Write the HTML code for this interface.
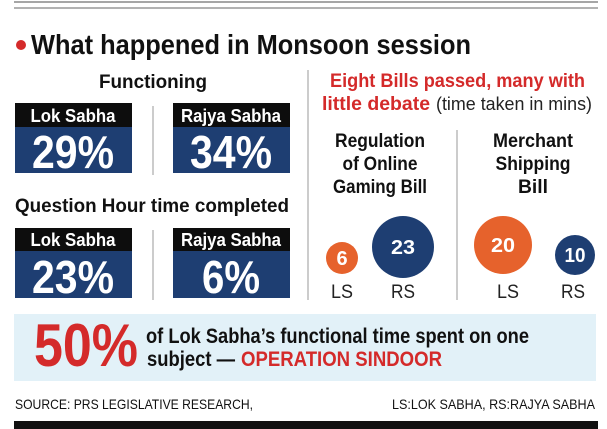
<!DOCTYPE html>
<html><head><meta charset="utf-8"><style>
html,body{margin:0;padding:0;background:#fff}
svg{display:block}
text{font-family:"Liberation Sans",sans-serif}
</style></head><body>
<svg width="607" height="429" viewBox="0 0 607 429" xmlns="http://www.w3.org/2000/svg">
<rect width="607" height="429" fill="#fff"/>
<line x1="14" y1="2" x2="598" y2="2" stroke="#888" stroke-width="1.5"/>
<line x1="14" y1="8" x2="598" y2="8" stroke="#999" stroke-width="1.5"/>
<circle cx="21" cy="45" r="5" fill="#d42a2a"/>
<text x="31" y="54" font-size="28" font-weight="bold" textLength="440" lengthAdjust="spacingAndGlyphs" fill="#111">What happened in Monsoon session</text>

<text x="153" y="88" font-size="19" font-weight="bold" text-anchor="middle" textLength="108" lengthAdjust="spacingAndGlyphs" fill="#111">Functioning</text>
<line x1="153" y1="106" x2="153" y2="175" stroke="#ccc" stroke-width="2"/>
<rect x="15" y="103" width="117" height="24" fill="#0d0d0d"/>
<rect x="15" y="127" width="117" height="46" fill="#1e3e72"/>
<text x="73" y="122" font-size="18" font-weight="bold" fill="#fff" text-anchor="middle" textLength="85" lengthAdjust="spacingAndGlyphs">Lok Sabha</text>
<text x="73" y="168" font-size="46" font-weight="bold" fill="#fff" text-anchor="middle" textLength="82" lengthAdjust="spacingAndGlyphs">29%</text>
<rect x="173" y="103" width="117" height="24" fill="#0d0d0d"/>
<rect x="173" y="127" width="117" height="46" fill="#1e3e72"/>
<text x="231" y="122" font-size="18" font-weight="bold" fill="#fff" text-anchor="middle" textLength="100" lengthAdjust="spacingAndGlyphs">Rajya Sabha</text>
<text x="231" y="168" font-size="46" font-weight="bold" fill="#fff" text-anchor="middle" textLength="82" lengthAdjust="spacingAndGlyphs">34%</text>

<text x="15" y="212" font-size="19" font-weight="bold" textLength="274" lengthAdjust="spacingAndGlyphs" fill="#111">Question Hour time completed</text>
<line x1="153" y1="230" x2="153" y2="300" stroke="#ccc" stroke-width="2"/>
<rect x="15" y="228" width="117" height="23" fill="#0d0d0d"/>
<rect x="15" y="251" width="117" height="47" fill="#1e3e72"/>
<text x="73" y="246" font-size="18" font-weight="bold" fill="#fff" text-anchor="middle" textLength="85" lengthAdjust="spacingAndGlyphs">Lok Sabha</text>
<text x="73" y="293" font-size="46" font-weight="bold" fill="#fff" text-anchor="middle" textLength="82" lengthAdjust="spacingAndGlyphs">23%</text>
<rect x="173" y="228" width="117" height="23" fill="#0d0d0d"/>
<rect x="173" y="251" width="117" height="47" fill="#1e3e72"/>
<text x="231" y="246" font-size="18" font-weight="bold" fill="#fff" text-anchor="middle" textLength="100" lengthAdjust="spacingAndGlyphs">Rajya Sabha</text>
<text x="231" y="293" font-size="46" font-weight="bold" fill="#fff" text-anchor="middle" textLength="58" lengthAdjust="spacingAndGlyphs">6%</text>

<line x1="308" y1="70" x2="308" y2="300" stroke="#bbb" stroke-width="1.5"/>
<text x="330" y="87" font-size="19" font-weight="bold" fill="#d42a2a" textLength="255" lengthAdjust="spacingAndGlyphs">Eight Bills passed, many with</text>
<text x="322" y="110" font-size="19" font-weight="bold" fill="#d42a2a" textLength="108" lengthAdjust="spacingAndGlyphs">little debate</text>
<text x="436" y="110" font-size="18" fill="#222" textLength="156" lengthAdjust="spacingAndGlyphs">(time taken in mins)</text>

<line x1="457" y1="130" x2="457" y2="300" stroke="#bbb" stroke-width="1.5"/>
<g font-size="19" font-weight="bold" fill="#111" text-anchor="middle">
<text x="380" y="147" textLength="90" lengthAdjust="spacingAndGlyphs">Regulation</text>
<text x="380" y="170" textLength="75" lengthAdjust="spacingAndGlyphs">of Online</text>
<text x="380" y="193" textLength="94" lengthAdjust="spacingAndGlyphs">Gaming Bill</text>
<text x="533" y="147" textLength="80" lengthAdjust="spacingAndGlyphs">Merchant</text>
<text x="533" y="170" textLength="75" lengthAdjust="spacingAndGlyphs">Shipping</text>
<text x="533" y="193" textLength="30" lengthAdjust="spacingAndGlyphs">Bill</text>
</g>
<circle cx="342" cy="258" r="16" fill="#e6622c"/>
<circle cx="403" cy="247" r="31" fill="#1e3e72"/>
<circle cx="503" cy="245" r="29" fill="#e6622c"/>
<circle cx="575" cy="255" r="20" fill="#1e3e72"/>
<g font-size="20" font-weight="bold" fill="#fff" text-anchor="middle">
<text x="342" y="265">6</text>
<text x="403" y="254" textLength="24" lengthAdjust="spacingAndGlyphs">23</text>
<text x="503" y="252" textLength="24" lengthAdjust="spacingAndGlyphs">20</text>
<text x="575" y="262" textLength="21" lengthAdjust="spacingAndGlyphs">10</text>
</g>
<g font-size="19" fill="#222" text-anchor="middle">
<text x="342" y="298" textLength="22" lengthAdjust="spacingAndGlyphs">LS</text>
<text x="403" y="298" textLength="24" lengthAdjust="spacingAndGlyphs">RS</text>
<text x="508" y="298" textLength="22" lengthAdjust="spacingAndGlyphs">LS</text>
<text x="573" y="298" textLength="24" lengthAdjust="spacingAndGlyphs">RS</text>
</g>

<rect x="14" y="314" width="582" height="67" fill="#e2f1f8"/>
<text x="34" y="366" font-size="60" font-weight="bold" fill="#d42a2a" textLength="104" lengthAdjust="spacingAndGlyphs">50%</text>
<text x="146" y="343" font-size="21" font-weight="bold" fill="#111" textLength="383" lengthAdjust="spacingAndGlyphs">of Lok Sabha’s functional time spent on one</text>
<text x="147" y="366" font-size="21" font-weight="bold" fill="#111" textLength="88" lengthAdjust="spacingAndGlyphs">subject —</text>
<text x="241" y="366" font-size="21" font-weight="bold" fill="#d42a2a" textLength="201" lengthAdjust="spacingAndGlyphs">OPERATION SINDOOR</text>

<text x="15" y="409" font-size="14" fill="#111" textLength="238" lengthAdjust="spacingAndGlyphs">SOURCE: PRS LEGISLATIVE RESEARCH,</text>
<text x="392" y="409" font-size="14" fill="#111" textLength="203" lengthAdjust="spacingAndGlyphs">LS:LOK SABHA,  RS:RAJYA SABHA</text>
<rect x="14" y="421" width="584" height="8" fill="#111"/>
</svg>
</body></html>
